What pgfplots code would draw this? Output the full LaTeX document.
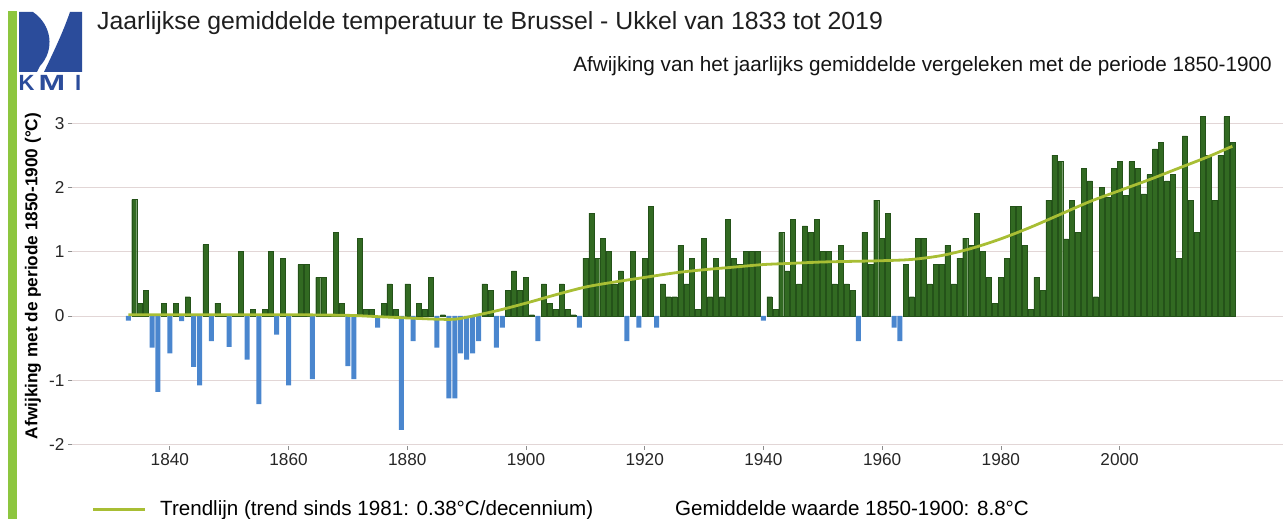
\documentclass[border=0pt]{standalone}
\usepackage{fontspec}
\setmainfont{Liberation Sans}
\usepackage{pgfplots}
\usepackage{pgfplotstable}
\pgfplotsset{compat=1.18}

\definecolor{barpos}{RGB}{50,106,34}
\definecolor{barposedge}{RGB}{36,82,25}
\definecolor{barneg}{RGB}{74,134,206}
\definecolor{trend}{RGB}{168,190,52}
\definecolor{gridc}{RGB}{226,214,214}
\definecolor{stripe}{RGB}{141,198,63}
\definecolor{logoblue}{RGB}{43,76,155}

% afwijking t.o.v. 1850-1900 (degC), afgelezen
\pgfplotstableread{
year val
1833 -0.07
1834 1.81
1835 0.20
1836 0.40
1837 -0.49
1838 -1.18
1839 0.20
1840 -0.58
1841 0.20
1842 -0.08
1843 0.30
1844 -0.79
1845 -1.08
1846 1.11
1847 -0.39
1848 0.20
1849 0.02
1850 -0.48
1851 0.02
1852 1.00
1853 -0.68
1854 0.10
1855 -1.37
1856 0.10
1857 1.00
1858 -0.29
1859 0.90
1860 -1.08
1861 0.02
1862 0.80
1863 0.80
1864 -0.98
1865 0.60
1866 0.60
1867 0.02
1868 1.30
1869 0.20
1870 -0.78
1871 -0.98
1872 1.21
1873 0.10
1874 0.10
1875 -0.18
1876 0.20
1877 0.50
1878 0.10
1879 -1.77
1880 0.50
1881 -0.39
1882 0.20
1883 0.10
1884 0.60
1885 -0.49
1886 0.02
1887 -1.28
1888 -1.28
1889 -0.58
1890 -0.68
1891 -0.58
1892 -0.39
1893 0.50
1894 0.40
1895 -0.49
1896 -0.18
1897 0.40
1898 0.70
1899 0.40
1900 0.60
1901 0.02
1902 -0.39
1903 0.50
1904 0.20
1905 0.10
1906 0.50
1907 0.10
1908 0.02
1909 -0.18
1910 0.90
1911 1.60
1912 0.90
1913 1.21
1914 1.00
1915 0.50
1916 0.70
1917 -0.39
1918 1.00
1919 -0.18
1920 0.90
1921 1.70
1922 -0.18
1923 0.50
1924 0.30
1925 0.30
1926 1.10
1927 0.50
1928 0.90
1929 0.10
1930 1.21
1931 0.30
1932 0.90
1933 0.30
1934 1.50
1935 0.90
1936 0.80
1937 1.00
1938 1.00
1939 1.00
1940 -0.07
1941 0.30
1942 0.10
1943 1.30
1944 0.70
1945 1.50
1946 0.50
1947 1.40
1948 1.30
1949 1.50
1950 1.00
1951 1.00
1952 0.50
1953 1.10
1954 0.50
1955 0.40
1956 -0.39
1957 1.30
1958 0.80
1959 1.80
1960 1.21
1961 1.60
1962 -0.18
1963 -0.39
1964 0.80
1965 0.30
1966 1.21
1967 1.21
1968 0.50
1969 0.80
1970 0.80
1971 1.10
1972 0.50
1973 0.90
1974 1.21
1975 1.10
1976 1.60
1977 1.00
1978 0.60
1979 0.20
1980 0.60
1981 0.90
1982 1.70
1983 1.70
1984 1.10
1985 0.10
1986 0.60
1987 0.40
1988 1.80
1989 2.50
1990 2.40
1991 1.20
1992 1.80
1993 1.30
1994 2.30
1995 2.10
1996 0.30
1997 2.00
1998 1.85
1999 2.30
2000 2.40
2001 1.88
2002 2.40
2003 2.30
2004 1.90
2005 2.20
2006 2.60
2007 2.70
2008 2.10
2009 2.20
2010 0.90
2011 2.80
2012 1.80
2013 1.30
2014 3.10
2015 2.50
2016 1.80
2017 2.50
2018 3.10
2019 2.70
}\anomaly

\begin{document}
\begin{tikzpicture}[x=1pt,y=1pt]
\path[use as bounding box] (0,0) rectangle (1286,519);

% groene balk links
\fill[stripe] (8,0) rectangle (17,508);

% KMI logo (benadering)
\fill[logoblue] (19,507) -- (33,507) .. controls (52,494) and (55,469) .. (40,453) -- (37,447) -- (19,447) -- cycle;
\fill[logoblue] (70,507) -- (82,507) -- (82,447) -- (44,447) .. controls (52,464) and (62,484) .. (70,507) -- cycle;
\node[anchor=base west, inner sep=0, text=logoblue, font=\bfseries\fontsize{22}{24}\selectfont] at (18.5,428) {K};
\node[anchor=base west, inner sep=0, text=logoblue, font=\bfseries\fontsize{22}{24}\selectfont] at (38.5,428) {\scalebox{1.45}[1]{M}};
\node[anchor=base west, inner sep=0, text=logoblue, font=\bfseries\fontsize{22}{24}\selectfont] at (75,428) {I};

% titels
\node[anchor=base west, inner sep=0, text=black!88, font=\fontsize{24.8}{28}\selectfont] at (97,489)
  {Jaarlijkse gemiddelde temperatuur te Brussel - Ukkel van 1833 tot 2019};
\node[anchor=base east, inner sep=0, text=black!92, font=\fontsize{20.7}{24}\selectfont] at (1272,447)
  {Afwijking van het jaarlijks gemiddelde vergeleken met de periode 1850-1900};

% y-as titel
\node[rotate=90, inner sep=0, font=\bfseries\fontsize{17.2}{20}\selectfont] at (33,243)
  {Afwijking met de periode 1850-1900 (°C)};

\begin{axis}[
  at={(71.9pt,73.1pt)}, anchor=south west,
  scale only axis,
  width=1210.9pt, height=342.1pt,
  xmin=1823.5, xmax=2027.5,
  ymin=-2.02, ymax=3.3,
  axis line style={draw=none},
  ymajorgrids,
  grid style={draw=gridc, line width=0.9pt},
  tick align=outside,
  major tick length=4pt,
  tick style={draw=black!45, line width=0.7pt},
  xtick pos=bottom, ytick pos=left,
  xtick={1840,1860,1880,1900,1920,1940,1960,1980,2000},
  xticklabels={1840,1860,1880,1900,1920,1940,1960,1980,2000},
  ytick={-2,-1,0,1,2,3},
  yticklabels={-2,-1,0,1,2,3},
  tick label style={font=\fontsize{17.2}{20}\selectfont, text=black!85},
  clip=false,
]
\addplot[ybar, bar width=5pt, bar shift=0pt, fill=barpos, draw=barposedge, line width=0.4pt,
  restrict y to domain=0:10] table[x=year, y=val] {\anomaly};
\addplot[ybar, bar width=5pt, bar shift=0pt, fill=barneg, draw=none,
  restrict y to domain=-10:0] table[x=year, y=val] {\anomaly};
\addplot[trend, line width=2.8pt, smooth, tension=0.5] coordinates {
  (1833,0.02) (1840,0.02) (1850,0.02) (1860,0.02) (1870,0.01) (1875,-0.01)
  (1880,-0.03) (1885,-0.05) (1888,-0.05) (1890,-0.02) (1895,0.08) (1900,0.20)
  (1905,0.33) (1910,0.45) (1915,0.53) (1920,0.60) (1925,0.67) (1930,0.72)
  (1935,0.76) (1940,0.80) (1945,0.82) (1950,0.84) (1955,0.85) (1960,0.86)
  (1965,0.88) (1970,0.94) (1975,1.05) (1980,1.20) (1985,1.38) (1990,1.58)
  (1995,1.78) (2000,1.95) (2005,2.12) (2010,2.30) (2015,2.48) (2019,2.64)
};
\end{axis}

% legenda
\draw[trend, line width=3pt] (93,9) -- (145,9);
\node[anchor=base west, inner sep=0, font=\fontsize{20.6}{24}\selectfont] at (160,3)
  {Trendlijn (trend sinds 1981: 0.38°C/decennium)};
\node[anchor=base west, inner sep=0, font=\fontsize{20.6}{24}\selectfont] at (675,3)
  {Gemiddelde waarde 1850-1900: 8.8°C};
\end{tikzpicture}
\end{document}
